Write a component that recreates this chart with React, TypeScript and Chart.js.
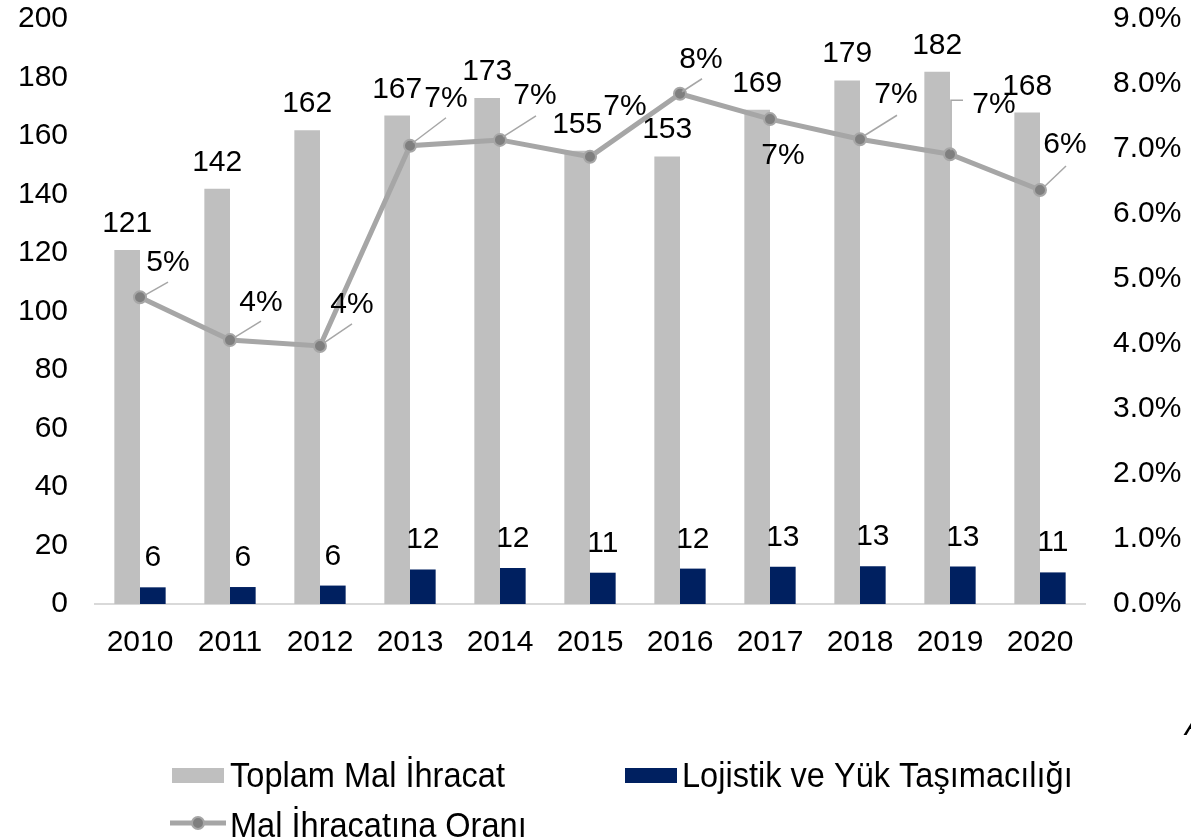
import React, { useEffect, useRef } from 'react';
import { Chart, registerables } from 'chart.js';

Chart.register(...registerables);

// ---------- data ----------
const years = ['2010', '2011', '2012', '2013', '2014', '2015', '2016', '2017', '2018', '2019', '2020'];
const totalExports = [121, 142, 162, 167, 173, 155, 153, 169, 179, 182, 168];
const logistics = [5.7, 5.8, 6.3, 11.8, 12.3, 10.7, 12.1, 12.7, 12.9, 12.8, 10.8];
const ratioPct = [4.72, 4.06, 3.97, 7.05, 7.14, 6.88, 7.85, 7.46, 7.15, 6.92, 6.37];

const seriesNames = ['Toplam Mal İhracat', 'Lojistik ve Yük Taşımacılığı', 'Mal İhracatına Oranı'];

// ---------- styles ----------
const FONT = '"Liberation Sans", Arial, "Noto Sans", sans-serif';
const GRAY_BAR = '#BFBFBF';
const NAVY_BAR = '#002060';
const LINE_COLOR = '#A6A6A6';
const MARKER_COLOR = '#7F7F7F';

// label placement for the percentage labels (pixel offsets from the point)
type PctStyle = { dx: number; dy: number; leader?: number[][] };
const pctLabelStyle: PctStyle[] = [
  { dx: 28, dy: -37, leader: [[5, -2], [28, -15]] },
  { dx: 31, dy: -40, leader: [[5, -3], [31, -19]] },
  { dx: 32, dy: -43, leader: [[4, -3], [32, -22]] },
  { dx: 36, dy: -49, leader: [[3, -3], [36, -28]] },
  { dx: 35, dy: -46, leader: [[3, -3], [36, -24]] },
  { dx: 35, dy: -52 },
  { dx: 21, dy: -36, leader: [[2, -2], [22, -15]] },
  { dx: 13, dy: 34 },
  { dx: 36, dy: -47, leader: [[5, -4], [37, -24]] },
  { dx: 44, dy: -52, leader: [[1, -4], [1, -54], [13, -54]] },
  { dx: 25, dy: -47, leader: [[4, -3], [26, -24]] },
];

const labelPlugin = {
  id: 'customLabels',
  afterDatasetsDraw(chart: any) {
    const ctx = chart.ctx as CanvasRenderingContext2D;
    ctx.save();
    ctx.font = `30px ${FONT}`;
    ctx.fillStyle = '#000';
    ctx.textAlign = 'center';
    ctx.textBaseline = 'alphabetic';

    const m0 = chart.getDatasetMeta(0);
    m0.data.forEach((el: any, i: number) => {
      ctx.fillText(String(Math.round(totalExports[i])), el.x, el.y - 18);
    });
    const m1 = chart.getDatasetMeta(1);
    m1.data.forEach((el: any, i: number) => {
      ctx.fillText(String(Math.round(logistics[i])), el.x, el.y - 21);
    });
    const m2 = chart.getDatasetMeta(2);
    m2.data.forEach((el: any, i: number) => {
      const s = pctLabelStyle[i];
      if (s.leader) {
        ctx.beginPath();
        s.leader.forEach(([lx, ly], k) => {
          if (k === 0) ctx.moveTo(el.x + lx, el.y + ly);
          else ctx.lineTo(el.x + lx, el.y + ly);
        });
        ctx.strokeStyle = LINE_COLOR;
        ctx.lineWidth = 1.5;
        ctx.stroke();
      }
      ctx.fillStyle = '#000';
      ctx.fillText(Math.round(ratioPct[i]) + '%', el.x + s.dx, el.y + s.dy + 10.5);
    });
    ctx.restore();
  },
  afterDraw(chart: any) {
    const ctx = chart.ctx as CanvasRenderingContext2D;
    ctx.save();
    ctx.font = `35px ${FONT}`;
    ctx.textAlign = 'left';
    ctx.textBaseline = 'alphabetic';
    const legendText = (t: string, x: number, y: number) => {
      ctx.save();
      ctx.translate(x, y);
      ctx.scale(0.93, 1);
      ctx.fillStyle = '#000';
      ctx.fillText(t, 0, 0);
      ctx.restore();
    };

    // legend row 1
    ctx.fillStyle = GRAY_BAR;
    ctx.fillRect(172, 768, 52, 15);
    legendText(seriesNames[0], 230, 787);

    ctx.fillStyle = NAVY_BAR;
    ctx.fillRect(625, 768, 52, 15);
    legendText(seriesNames[1], 682, 787);

    // legend row 2
    ctx.beginPath();
    ctx.moveTo(170, 823);
    ctx.lineTo(226, 823);
    ctx.strokeStyle = LINE_COLOR;
    ctx.lineWidth = 5;
    ctx.stroke();
    ctx.beginPath();
    ctx.arc(198, 823, 6, 0, Math.PI * 2);
    ctx.fillStyle = MARKER_COLOR;
    ctx.fill();
    ctx.lineWidth = 2;
    ctx.strokeStyle = LINE_COLOR;
    ctx.stroke();
    legendText(seriesNames[2], 230, 837);

    // cut-off note at the right edge
    ctx.fillStyle = '#000';
    ctx.font = `italic 30px ${FONT}`;
    ctx.fillText('A', 1185, 735);
    ctx.restore();
  },
};

const noPad = (s: any) => {
  s.paddingTop = 0;
  s.paddingBottom = 0;
};

export default function App() {
  const canvasRef = useRef<HTMLCanvasElement | null>(null);

  useEffect(() => {
    const canvas = canvasRef.current;
    if (!canvas) return;
    const chart = new Chart(canvas, {
      type: 'bar',
      data: {
        labels: years,
        datasets: [
          {
            type: 'bar',
            label: seriesNames[0],
            data: totalExports,
            backgroundColor: GRAY_BAR,
            yAxisID: 'y',
            order: 2,
            categoryPercentage: 0.57,
            barPercentage: 1,
          },
          {
            type: 'bar',
            label: seriesNames[1],
            data: logistics,
            backgroundColor: NAVY_BAR,
            yAxisID: 'y',
            order: 2,
            categoryPercentage: 0.57,
            barPercentage: 1,
          },
          {
            type: 'line',
            label: seriesNames[2],
            data: ratioPct,
            borderColor: LINE_COLOR,
            borderWidth: 5,
            pointRadius: 6,
            pointBackgroundColor: MARKER_COLOR,
            pointBorderColor: LINE_COLOR,
            pointBorderWidth: 2,
            yAxisID: 'y1',
            order: 0,
            tension: 0,
          } as any,
        ],
      },
      options: {
        responsive: false,
        animation: false,
        layout: { padding: { top: 19, left: 0, right: 0, bottom: 0 } },
        plugins: {
          legend: { display: false },
          tooltip: { enabled: false },
        },
        scales: {
          x: {
            grid: { display: false, drawTicks: false },
            border: { display: true, color: '#D9D9D9', width: 2 },
            ticks: { color: '#000', font: { size: 30, family: FONT }, padding: 21, maxRotation: 0, autoSkip: false },
            afterFit: (s: any) => { s.height = 235; s.paddingLeft = 0; s.paddingRight = 0; },
          },
          y: {
            position: 'left',
            min: 0,
            max: 200,
            grid: { display: false, drawTicks: false },
            border: { display: false },
            ticks: { stepSize: 20, color: '#000', font: { size: 30, family: FONT }, padding: 27 },
            afterFit: (s: any) => { s.width = 95; noPad(s); },
          },
          y1: {
            position: 'right',
            min: 0,
            max: 9,
            grid: { display: false, drawTicks: false },
            border: { display: false },
            ticks: {
              stepSize: 1,
              color: '#000',
              font: { size: 30, family: FONT },
              padding: 28,
              callback: (v: any) => Number(v).toFixed(1) + '%',
            },
            afterFit: (s: any) => { s.width = 106; noPad(s); },
          },
        },
      },
      plugins: [labelPlugin],
    });
    return () => chart.destroy();
  }, []);

  return (
    <div style={{ position: 'absolute', left: 0, top: 0, width: 1191, height: 839, background: '#fff', overflow: 'hidden' }}>
      <canvas ref={canvasRef} width={1191} height={839} style={{ width: 1191, height: 839, display: 'block' }} />
    </div>
  );
}
